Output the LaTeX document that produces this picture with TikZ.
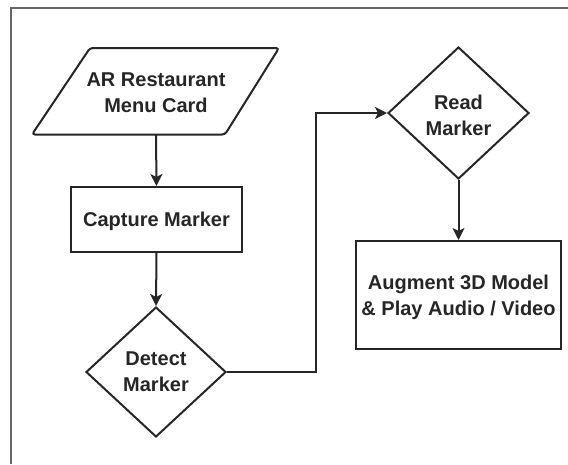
\documentclass[tikz,border=0pt]{standalone}
\usepackage{fontspec}
\setmainfont{Liberation Sans}
\usetikzlibrary{arrows.meta,shapes.geometric}
\tikzset{
 shapeline/.style={draw=black!85,line width=2pt},
 conn/.style={draw=black!85,line width=2pt,-{Stealth[length=12pt,width=12pt,inset=3pt]}},
 lbl/.style={font=\fontsize{20pt}{26pt}\selectfont\bfseries,align=center,text=black!85,inner sep=0pt},
 procbox/.style={shapeline,rectangle,inner sep=0pt},
 decide/.style={shapeline,diamond,aspect=1,inner sep=0pt},
}
\begin{document}
\begin{tikzpicture}[x=1pt,y=-1pt]
\useasboundingbox (0,0) rectangle (568,464);
\fill[white] (0,0) rectangle (568,464);
\draw[black!60,line width=2pt] (11,464) -- (11,7.5) -- (568,7.5);
\draw[shapeline,rounded corners=3pt] (90,48) -- (279,48) -- (225,134.5) -- (32,134.5) -- cycle;
\node[minimum height=86.5pt,inner sep=0pt,label={[lbl,yshift=-1.5pt]center:{AR Restaurant\\Menu Card}}] (card) at (156,91.2) {};
\node[procbox,minimum width=171pt,minimum height=65pt,label={[lbl,yshift=-2pt]center:{Capture Marker}}] (cap) at (156.5,219.5) {};
\node[decide,minimum width=140pt,minimum height=130pt,label={[lbl,yshift=0pt]center:{Detect\\Marker}}] (det) at (156,372) {};
\node[decide,minimum width=141pt,minimum height=132pt,label={[lbl,yshift=-2pt]center:{Read\\Marker}}] (read) at (458.5,113) {};
\node[procbox,minimum width=205pt,minimum height=108pt,label={[lbl,yshift=-2.5pt]center:{Augment 3D Model\\\& Play Audio / Video}}] (aug) at (458.5,295) {};
\draw[conn] (card.south) -- (cap.north);
\draw[conn] (cap.south) -- (det.north);
\draw[conn] (det.east) -- (316,372) -- (316,113) -- (read.west);
\draw[conn] (read.south) -- (aug.north);
\end{tikzpicture}
\end{document}
